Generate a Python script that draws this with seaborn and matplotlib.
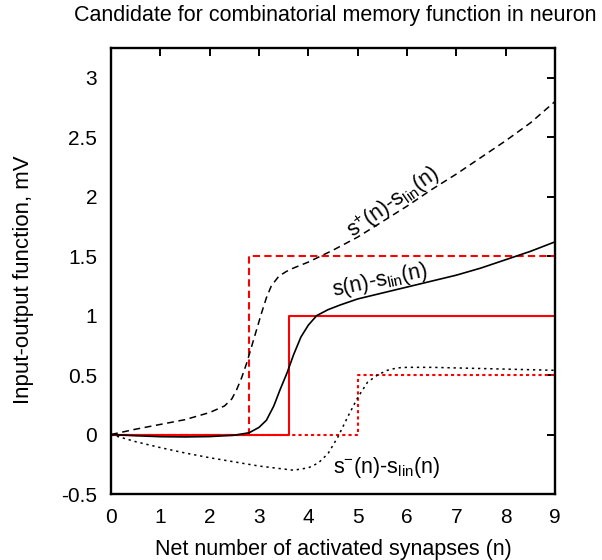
import numpy as np
import pandas as pd
import seaborn as sns
import matplotlib
matplotlib.use("Agg")
import matplotlib.pyplot as plt

# ---- data ----
n_s = [0, 0.5, 1.0, 1.5, 2.0, 2.5, 2.8, 3.0, 3.15, 3.3, 3.43, 3.57, 3.7, 3.85,
       4.0, 4.17, 4.4, 4.65, 5.0, 5.5, 6.0, 6.5, 7.0, 7.5, 8.0, 8.5, 9.0]
y_s = [0, -0.01, -0.018, -0.02, -0.017, -0.006, 0.015, 0.06, 0.12, 0.24, 0.38, 0.52,
       0.67, 0.82, 0.92, 1.0, 1.05, 1.09, 1.14, 1.19, 1.24, 1.29, 1.34, 1.40, 1.47, 1.54, 1.62]

n_sp = [0, 0.5, 1.0, 1.5, 2.0, 2.3, 2.45, 2.55, 2.65, 2.75, 2.85, 2.95, 3.05, 3.15,
        3.25, 3.4, 3.55, 3.7, 4.0, 4.5, 5.0, 5.5, 6.0, 6.5, 7.0, 7.5, 8.0, 8.5, 9.0]
y_sp = [0, 0.045, 0.085, 0.125, 0.185, 0.24, 0.3, 0.38, 0.48, 0.6, 0.74, 0.88, 1.02, 1.15,
        1.25, 1.33, 1.37, 1.40, 1.45, 1.55, 1.66, 1.79, 1.92, 2.06, 2.19, 2.33, 2.47, 2.62, 2.80]

n_sm = [0, 0.5, 1.0, 1.5, 2.0, 2.5, 3.0, 3.4, 3.7, 4.0, 4.2, 4.4, 4.6, 4.8, 5.0, 5.2,
        5.4, 5.6, 5.8, 6.0, 6.5, 7.0, 7.5, 8.0, 8.5, 9.0]
y_sm = [0, -0.06, -0.11, -0.155, -0.195, -0.23, -0.265, -0.285, -0.30, -0.28, -0.24,
        -0.16, -0.02, 0.15, 0.31, 0.44, 0.50, 0.54, 0.56, 0.565, 0.565, 0.56, 0.555,
        0.55, 0.545, 0.54]

# step functions
step_n = [0, 3.6, 3.6, 9]
step_y = [0, 0, 1, 1]
stepp_n = [0, 2.8, 2.8, 9]
stepp_y = [0, 0, 1.5, 1.5]
stepm_n = [0, 5.0, 5.0, 9]
stepm_y = [0, 0, 0.5, 0.5]

x_ticks = [0, 1, 2, 3, 4, 5, 6, 7, 8, 9]
y_ticks = [-0.5, 0, 0.5, 1, 1.5, 2, 2.5, 3]

sns.set_style("white")
plt.rcParams["font.family"] = ["Liberation Sans", "DejaVu Sans"]
plt.rcParams["mathtext.default"] = "regular"
plt.rcParams["axes.unicode_minus"] = False
plt.rcParams["text.color"] = "black"
plt.rcParams["xtick.color"] = "black"
plt.rcParams["ytick.color"] = "black"
plt.rcParams["axes.labelcolor"] = "black"

fig = plt.figure(figsize=(6.02, 5.6), dpi=100)
ax = fig.add_axes([111 / 602, 1 - 494 / 560, (555 - 111) / 602, (494 - 48) / 560])

red = "#ff0000"
sns.lineplot(x=stepm_n, y=stepm_y, sort=False, estimator=None, ax=ax, color=red, lw=1.5)
ax.lines[-1].set_dashes((1.5, 1.5))
sns.lineplot(x=stepp_n, y=stepp_y, sort=False, estimator=None, ax=ax, color=red, lw=1.5)
ax.lines[-1].set_dashes((3.5, 2))
sns.lineplot(x=step_n, y=step_y, sort=False, estimator=None, ax=ax, color=red, lw=1.5)

sns.lineplot(x=n_sm, y=y_sm, sort=False, estimator=None, ax=ax, color="black", lw=1.1)
ax.lines[-1].set_dashes((1.5, 2.5))
sns.lineplot(x=n_sp, y=y_sp, sort=False, estimator=None, ax=ax, color="black", lw=1.1)
ax.lines[-1].set_dashes((4.5, 3))
sns.lineplot(x=n_s, y=y_s, sort=False, estimator=None, ax=ax, color="black", lw=1.2)

ax.set_xlim(0, 9)
ax.set_ylim(-0.5, 3.25)
ax.set_xticks(x_ticks)
ax.set_xticklabels([str(t) for t in x_ticks])
ax.set_yticks(y_ticks)
ax.set_yticklabels([("%g" % t) for t in y_ticks])
ax.tick_params(direction="in", length=6, width=1.4, labelsize=15,
               top=True, right=True, pad=10, colors="black")
ax.tick_params(axis="y", pad=10)
for sp in ax.spines.values():
    sp.set_linewidth(1.7)
    sp.set_color("black")
ax.set_xlabel("")
ax.set_ylabel("")

lab_fs = 15.5
ax.text(5.72, 1.955, r"$s^{+}$(n)-$s_{lin}$(n)", fontsize=lab_fs, rotation=35,
        ha="center", va="center", rotation_mode="anchor", color="black")
ax.text(5.45, 1.29, r"s(n)-$s_{lin}$(n)", fontsize=lab_fs, rotation=12,
        ha="center", va="center", rotation_mode="anchor", color="black")
ax.text(4.5, -0.32, r"$s^{-}$(n)-$s_{lin}$(n)", fontsize=lab_fs,
        ha="left", va="baseline", color="black")

fig.text(335 / 602, 1 - 16 / 560, "Candidate for combinatorial memory function in neuron",
         ha="center", va="center", fontsize=15.5, color="black")
fig.text(333 / 602, 1 - 550 / 560, "Net number of activated synapses (n)",
         ha="center", va="center", fontsize=15.5, color="black")
fig.text(24 / 602, 1 - 280 / 560, "Input-output function, mV",
         ha="center", va="center", rotation=90, fontsize=16, color="black")

fig.savefig("out.png", dpi=100)
